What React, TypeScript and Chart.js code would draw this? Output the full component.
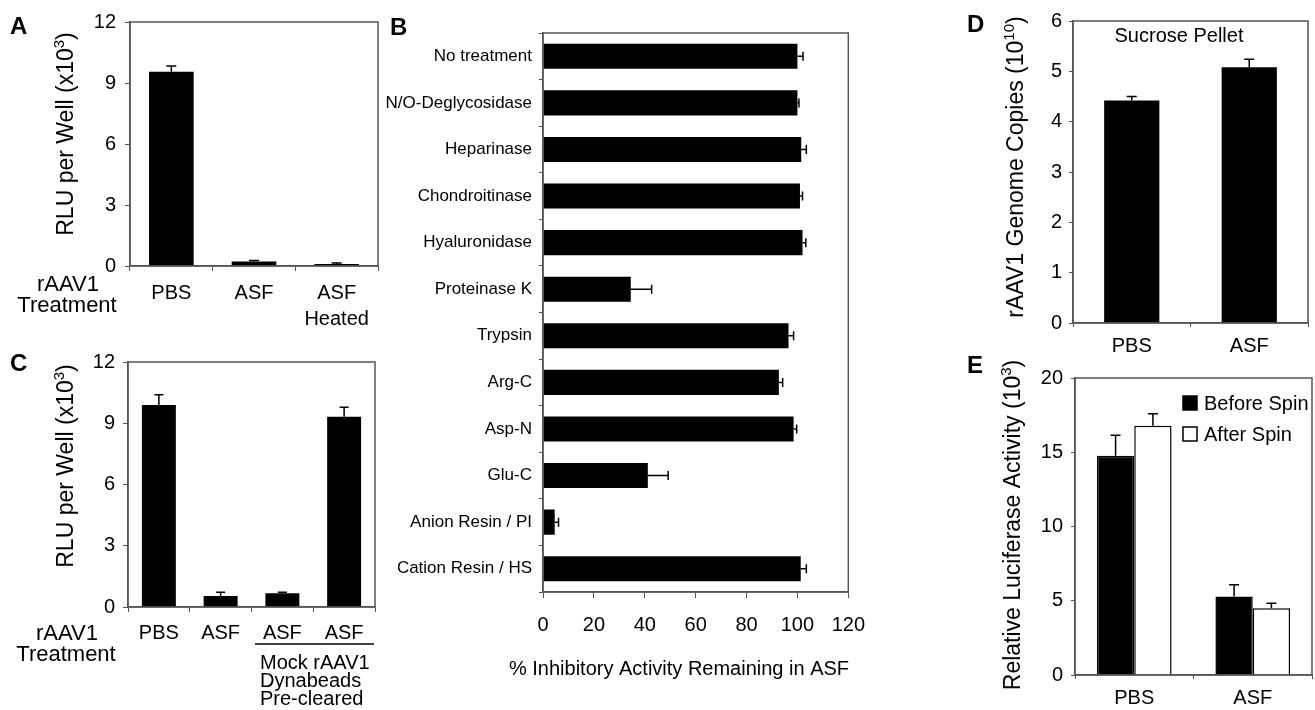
import React, { useEffect, useRef } from 'react';
import { Chart, registerables } from 'chart.js';
Chart.register(...registerables);

const FONT = "'Liberation Sans', Arial, Helvetica, sans-serif";
const AXIS = '#555';

// ---------- Panel A ----------
const aCategories: (string | string[])[] = ['PBS', 'ASF', ['ASF', 'Heated']];
const aValues = [9.55, 0.22, 0.1];
const aErrors = [0.28, 0.05, 0.05];

// ---------- Panel B ----------
const bCategories = [
  'No treatment', 'N/O-Deglycosidase', 'Heparinase', 'Chondroitinase', 'Hyaluronidase',
  'Proteinase K', 'Trypsin', 'Arg-C', 'Asp-N', 'Glu-C', 'Anion Resin / PI', 'Cation Resin / HS',
];
const bValues = [100, 100, 101.5, 101, 102, 34.5, 96.5, 92.7, 98.5, 41.2, 4.6, 101.3];
const bErrors = [2.2, 0.6, 2, 1, 1.3, 8.2, 2, 1.5, 1.2, 8, 1.5, 2.2];

// ---------- Panel C ----------
const cCategories = ['PBS', 'ASF', 'ASF', 'ASF'];
const cValues = [9.9, 0.54, 0.67, 9.32];
const cErrors = [0.5, 0.18, 0.05, 0.46];

// ---------- Panel D ----------
const dCategories = ['PBS', 'ASF'];
const dValues = [4.42, 5.08];
const dErrors = [0.08, 0.16];

// ---------- Panel E ----------
const eCategories = ['PBS', 'ASF'];
const eSeries = ['Before Spin', 'After Spin'];
const eBefore = [14.77, 5.28];
const eBeforeErr = [1.37, 0.79];
const eAfter = [16.79, 4.49];
const eAfterErr = [0.8, 0.34];

type Rect = { x: number; y: number; w: number; h: number };
type Area = { l: number; t: number; r: number; b: number };
type Seg = { t: string; sup?: boolean };

function drawRich(
  ctx: CanvasRenderingContext2D, segs: Seg[], x: number, y: number, size: number,
  opts: { rotate?: boolean; align?: 'center' | 'left'; bold?: boolean } = {}
) {
  ctx.save();
  ctx.translate(x, y);
  if (opts.rotate) ctx.rotate(-Math.PI / 2);
  const setFont = (s: Seg) => {
    ctx.font = `${opts.bold ? 'bold ' : ''}${s.sup ? Math.round(size * 0.65) : size}px ${FONT}`;
  };
  const widths = segs.map((s) => { setFont(s); return ctx.measureText(s.t).width; });
  const total = widths.reduce((a, b) => a + b, 0);
  let cx = opts.align === 'left' ? 0 : -total / 2;
  ctx.fillStyle = '#000';
  ctx.textAlign = 'left';
  ctx.textBaseline = 'alphabetic';
  const base = size * 0.36;
  segs.forEach((s, i) => {
    setFont(s);
    ctx.fillText(s.t, cx, s.sup ? base - size * 0.42 : base);
    cx += widths[i];
  });
  ctx.restore();
}

const errorBarPlugin = {
  id: 'errorBars',
  afterDatasetsDraw(chart: any) {
    const ctx = chart.ctx as CanvasRenderingContext2D;
    const horizontal = chart.options.indexAxis === 'y';
    const valueScale = horizontal ? chart.scales.x : chart.scales.y;
    chart.data.datasets.forEach((ds: any, i: number) => {
      const errs: number[] | undefined = ds.errors;
      if (!errs) return;
      const meta = chart.getDatasetMeta(i);
      const cap = ds.capSize || 10;
      ctx.save();
      ctx.strokeStyle = '#000';
      ctx.lineWidth = 1.5;
      meta.data.forEach((el: any, j: number) => {
        const end = valueScale.getPixelForValue(ds.data[j] + errs[j]);
        ctx.beginPath();
        if (horizontal) {
          ctx.moveTo(el.x, el.y); ctx.lineTo(end, el.y);
          ctx.moveTo(end, el.y - cap / 2); ctx.lineTo(end, el.y + cap / 2);
        } else {
          ctx.moveTo(el.x, el.y); ctx.lineTo(el.x, end);
          ctx.moveTo(el.x - cap / 2, end); ctx.lineTo(el.x + cap / 2, end);
        }
        ctx.stroke();
      });
      ctx.restore();
    });
  },
};

const framePlugin = {
  id: 'frame',
  afterDatasetsDraw(chart: any) {
    const { left, top, right, bottom } = chart.chartArea;
    const ctx = chart.ctx as CanvasRenderingContext2D;
    ctx.save();
    ctx.strokeStyle = AXIS;
    ctx.lineWidth = 1.5;
    ctx.strokeRect(left, top, right - left, bottom - top);
    ctx.restore();
  },
};

function decor(rect: Rect, draw: (ctx: CanvasRenderingContext2D, chart: any) => void) {
  return {
    id: 'decor',
    afterDraw(chart: any) {
      const ctx = chart.ctx as CanvasRenderingContext2D;
      ctx.save();
      ctx.translate(-rect.x, -rect.y);
      draw(ctx, chart);
      ctx.restore();
    },
  };
}

function baseOptions(rect: Rect, area: Area, extra: any) {
  return {
    responsive: false,
    animation: false,
    devicePixelRatio: 1,
    events: [],
    layout: {
      autoPadding: false,
      padding: { left: 0, top: area.t - rect.y, right: rect.x + rect.w - area.r, bottom: 0 },
    },
    plugins: { legend: { display: false }, tooltip: { enabled: false }, title: { display: false } },
    ...extra,
  };
}

function valueAxis(rect: Rect, area: Area, min: number, max: number, step: number, size: number, pad: number, tl: number, isY: boolean) {
  return {
    type: 'linear',
    position: isY ? 'left' : 'bottom',
    min, max,
    ticks: { stepSize: step, font: { family: FONT, size }, color: '#000', padding: pad },
    grid: { drawOnChartArea: false, drawTicks: true, tickLength: tl, color: AXIS, lineWidth: 1 },
    border: { display: true, color: AXIS, width: 1.5 },
    afterFit: isY
      ? (s: any) => { s.width = area.l - rect.x; }
      : (s: any) => { s.height = rect.y + rect.h - area.b; },
  };
}

function categoryAxis(rect: Rect, area: Area, size: number, pad: number, tl: number, isY: boolean, lineHeight = 1.2) {
  return {
    type: 'category',
    position: isY ? 'left' : 'bottom',
    offset: true,
    ticks: { font: { family: FONT, size, lineHeight }, color: '#000', padding: pad, autoSkip: false, maxRotation: 0 },
    grid: { offset: true, drawOnChartArea: false, drawTicks: true, tickLength: tl, color: AXIS, lineWidth: 1 },
    border: { display: true, color: AXIS, width: 1.5 },
    afterFit: isY
      ? (s: any) => { s.width = area.l - rect.x; }
      : (s: any) => { s.height = rect.y + rect.h - area.b; },
  };
}

// ---------- Configs ----------
const rectA: Rect = { x: 0, y: 0, w: 385, h: 345 };
const areaA: Area = { l: 130, t: 22, r: 378, b: 266 };
function buildA() {
  return {
    type: 'bar',
    data: {
      labels: aCategories,
      datasets: [{ data: aValues, errors: aErrors, capSize: 10, backgroundColor: '#000', barPercentage: 0.54, categoryPercentage: 1 }],
    },
    options: baseOptions(rectA, areaA, {
      scales: {
        x: categoryAxis(rectA, areaA, 20, 9, 5, false, 1.3),
        y: valueAxis(rectA, areaA, 0, 12, 3, 20, 9, 5, true),
      },
    }),
    plugins: [framePlugin, errorBarPlugin, decor(rectA, (ctx) => {
      drawRich(ctx, [{ t: 'A' }], 10, 25, 24, { align: 'left', bold: true });
      drawRich(ctx, [{ t: 'RLU per Well (x10' }, { t: '3', sup: true }, { t: ')' }], 65, 134, 23, { rotate: true });
      drawRich(ctx, [{ t: 'rAAV1' }], 68, 283, 22);
      drawRich(ctx, [{ t: 'Treatment' }], 67, 304, 22);
    })],
  };
}

const rectC: Rect = { x: 0, y: 340, w: 385, h: 370 };
const areaC: Area = { l: 128, t: 362, r: 375, b: 607 };
function buildC() {
  return {
    type: 'bar',
    data: {
      labels: cCategories,
      datasets: [{ data: cValues, errors: cErrors, capSize: 9, backgroundColor: '#000', barPercentage: 0.55, categoryPercentage: 1 }],
    },
    options: baseOptions(rectC, areaC, {
      scales: {
        x: categoryAxis(rectC, areaC, 20, 9, 5, false),
        y: valueAxis(rectC, areaC, 0, 12, 3, 20, 8, 5, true),
      },
    }),
    plugins: [framePlugin, errorBarPlugin, decor(rectC, (ctx) => {
      drawRich(ctx, [{ t: 'C' }], 10, 362, 24, { align: 'left', bold: true });
      drawRich(ctx, [{ t: 'RLU per Well (x10' }, { t: '3', sup: true }, { t: ')' }], 65, 466, 23, { rotate: true });
      drawRich(ctx, [{ t: 'rAAV1' }], 67, 632, 22);
      drawRich(ctx, [{ t: 'Treatment' }], 66, 653, 22);
      ctx.save();
      ctx.strokeStyle = '#000';
      ctx.lineWidth = 1.5;
      ctx.beginPath();
      ctx.moveTo(255, 644);
      ctx.lineTo(374, 644);
      ctx.stroke();
      ctx.restore();
      drawRich(ctx, [{ t: 'Mock rAAV1' }], 260, 662, 20, { align: 'left' });
      drawRich(ctx, [{ t: 'Dynabeads' }], 260, 680, 20, { align: 'left' });
      drawRich(ctx, [{ t: 'Pre-cleared' }], 260, 698, 20, { align: 'left' });
    })],
  };
}

const rectB: Rect = { x: 370, y: 0, w: 510, h: 700 };
const areaB: Area = { l: 543, t: 33, r: 852, b: 592 };
function buildB() {
  return {
    type: 'bar',
    data: {
      labels: bCategories,
      datasets: [{ data: bValues, errors: bErrors, capSize: 9, backgroundColor: '#000', barPercentage: 0.54, categoryPercentage: 1 }],
    },
    options: baseOptions(rectB, areaB, {
      indexAxis: 'y',
      scales: {
        x: valueAxis(rectB, areaB, 0, 120, 20, 20, 15, 6, false),
        y: categoryAxis(rectB, areaB, 17, 7, 4, true),
      },
    }),
    plugins: [framePlugin, errorBarPlugin, decor(rectB, (ctx) => {
      drawRich(ctx, [{ t: 'B' }], 390, 26, 24, { align: 'left', bold: true });
      drawRich(ctx, [{ t: '% Inhibitory Activity Remaining in ASF' }], 679, 668, 20);
    })],
  };
}

const rectD: Rect = { x: 945, y: 0, w: 370, h: 358 };
const areaD: Area = { l: 1073, t: 21, r: 1308, b: 323 };
function buildD() {
  return {
    type: 'bar',
    data: {
      labels: dCategories,
      datasets: [{ data: dValues, errors: dErrors, capSize: 10, backgroundColor: '#000', barPercentage: 0.47, categoryPercentage: 1 }],
    },
    options: baseOptions(rectD, areaD, {
      scales: {
        x: categoryAxis(rectD, areaD, 20, 7, 4, false),
        y: valueAxis(rectD, areaD, 0, 6, 1, 20, 7, 4, true),
      },
    }),
    plugins: [framePlugin, errorBarPlugin, decor(rectD, (ctx) => {
      drawRich(ctx, [{ t: 'D' }], 967, 23, 24, { align: 'left', bold: true });
      drawRich(ctx, [{ t: 'rAAV1 Genome Copies (10' }, { t: '10', sup: true }, { t: ')' }], 1015, 167, 23, { rotate: true });
      drawRich(ctx, [{ t: 'Sucrose Pellet' }], 1179, 35, 20);
    })],
  };
}

const rectE: Rect = { x: 945, y: 345, w: 370, h: 365 };
const areaE: Area = { l: 1075, t: 378, r: 1312, b: 675 };
function buildE() {
  return {
    type: 'bar',
    data: {
      labels: eCategories,
      datasets: [
        { label: eSeries[0], data: eBefore, errors: eBeforeErr, capSize: 10, backgroundColor: '#000', borderColor: '#000', borderWidth: 1.5, barPercentage: 1, categoryPercentage: 0.63 },
        { label: eSeries[1], data: eAfter, errors: eAfterErr, capSize: 10, backgroundColor: '#fff', borderColor: '#000', borderWidth: 1.5, barPercentage: 1, categoryPercentage: 0.63 },
      ],
    },
    options: baseOptions(rectE, areaE, {
      scales: {
        x: categoryAxis(rectE, areaE, 20, 7, 4, false),
        y: valueAxis(rectE, areaE, 0, 20, 5, 20, 8, 4, true),
      },
    }),
    plugins: [framePlugin, errorBarPlugin, decor(rectE, (ctx, chart) => {
      drawRich(ctx, [{ t: 'E' }], 967, 364, 24, { align: 'left', bold: true });
      drawRich(ctx, [{ t: 'Relative Luciferase Activity (10' }, { t: '3', sup: true }, { t: ')' }], 1012, 525, 23, { rotate: true });
      chart.data.datasets.forEach((ds: any, i: number) => {
        const cy = 403 + i * 31;
        ctx.save();
        ctx.fillStyle = ds.backgroundColor;
        ctx.fillRect(1183, cy - 7, 14, 14);
        ctx.strokeStyle = '#000';
        ctx.lineWidth = 1.5;
        ctx.strokeRect(1183, cy - 7, 14, 14);
        ctx.restore();
        drawRich(ctx, [{ t: ds.label }], 1204, cy, 20, { align: 'left' });
      });
    })],
  };
}

function Panel({ rect, build }: { rect: Rect; build: () => any }) {
  const ref = useRef<HTMLCanvasElement | null>(null);
  useEffect(() => {
    if (!ref.current) return;
    const chart = new Chart(ref.current, build());
    return () => chart.destroy();
  }, []);
  return (
    <canvas
      ref={ref}
      width={rect.w}
      height={rect.h}
      style={{ position: 'absolute', left: rect.x, top: rect.y, width: rect.w, height: rect.h }}
    />
  );
}

export default function App() {
  return (
    <div style={{ position: 'absolute', left: 0, top: 0, width: 1315, height: 710, background: '#fff', overflow: 'hidden' }}>
      <Panel rect={rectA} build={buildA} />
      <Panel rect={rectC} build={buildC} />
      <Panel rect={rectB} build={buildB} />
      <Panel rect={rectD} build={buildD} />
      <Panel rect={rectE} build={buildE} />
    </div>
  );
}
